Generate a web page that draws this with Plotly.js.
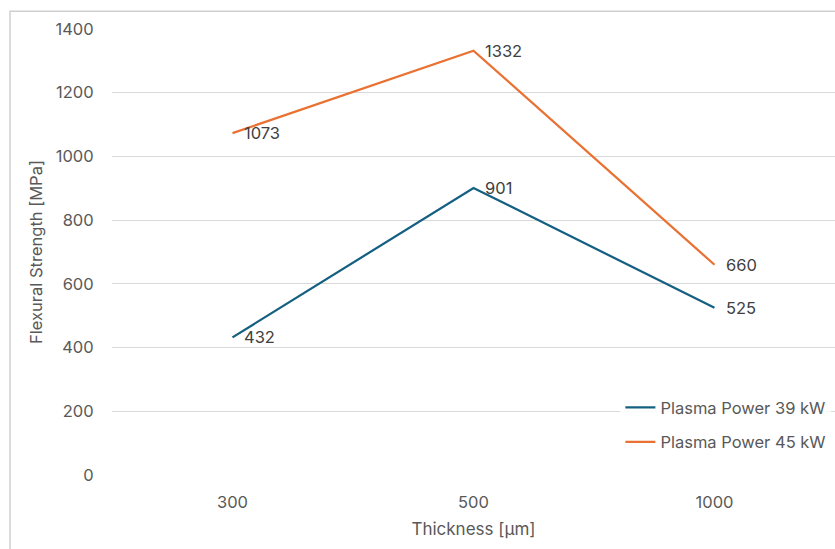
<!DOCTYPE html>
<html><head><meta charset="utf-8">
<script src="https://cdn.plot.ly/plotly-3.0.1.min.js"></script>
<style>html,body{margin:0;padding:0;background:#fff;}#chart{width:835px;height:549px;}</style>
</head><body><div id="chart"></div>
<script>
const categories = ["300", "500", "1000"];
const series39Name = "Plasma Power 39 kW";
const series39 = [432, 901, 525];
const series45Name = "Plasma Power 45 kW";
const series45 = [1073, 1332, 660];
const yTicks = [0, 200, 400, 600, 800, 1000, 1200, 1400];

const FONT = "Inter, 'Open Sans', sans-serif";
const TXT = "#595959";
const traces = [
  {x: categories, y: series39, name: series39Name, type: "scatter", mode: "lines",
   line: {color: "#156082", width: 2.25}, legendgroup: "a"},
  {x: categories, y: series45, name: series45Name, type: "scatter", mode: "lines",
   line: {color: "#E97132", width: 2.25}, legendgroup: "b"}
];
const annotations = [];
[series39, series45].forEach(s => s.forEach((v, i) => annotations.push({
  x: i, y: v, xref: "x", yref: "y", text: String(v), showarrow: false,
  xanchor: "left", yanchor: "middle", xshift: 9, font: {family: FONT, size: 16.5, color: "#404040"}
})));
const layout = {
  width: 835, height: 549,
  margin: {l: 112, r: 0, t: 29, b: 74},
  paper_bgcolor: "#fff", plot_bgcolor: "#fff",
  font: {family: FONT, size: 16.5, color: TXT},
  showlegend: true,
  legend: {x: 0.995, xanchor: "right", y: 0.19, yanchor: "top", bgcolor: "rgba(255,255,255,0.85)",
           font: {family: FONT, size: 16.5, color: TXT}, traceorder: "grouped", tracegroupgap: 10,
           itemwidth: 30},
  xaxis: {type: "category", range: [-0.5, 2.5], showgrid: false, zeroline: false, showline: false,
          ticks: "outside", ticklen: 12, tickcolor: "rgba(0,0,0,0)",
          tickfont: {family: FONT, size: 16.5, color: TXT},
          title: {text: "Thickness [μm]", font: {family: FONT, size: 17, color: TXT}, standoff: 12}},
  yaxis: {range: [0, 1400], tickvals: yTicks, showgrid: true, gridcolor: "#d9d9d9", gridwidth: 1,
          zeroline: false, showline: false, ticks: "outside", ticklen: 14, tickcolor: "rgba(0,0,0,0)",
          tickfont: {family: FONT, size: 16.5, color: TXT},
          title: {text: "Flexural Strength [MPa]", font: {family: FONT, size: 16.5, color: TXT}, standoff: 8}},
  annotations: annotations,
  shapes: [{type: "rect", xref: "paper", yref: "paper", x0: -0.141, x1: 1.05, y0: -0.3, y1: 1.04,
            line: {color: "#d0d0d0", width: 1.5}, fillcolor: "rgba(0,0,0,0)", layer: "below"}]
};
Plotly.newPlot("chart", traces, layout, {displayModeBar: false, staticPlot: true});
</script></body></html>
